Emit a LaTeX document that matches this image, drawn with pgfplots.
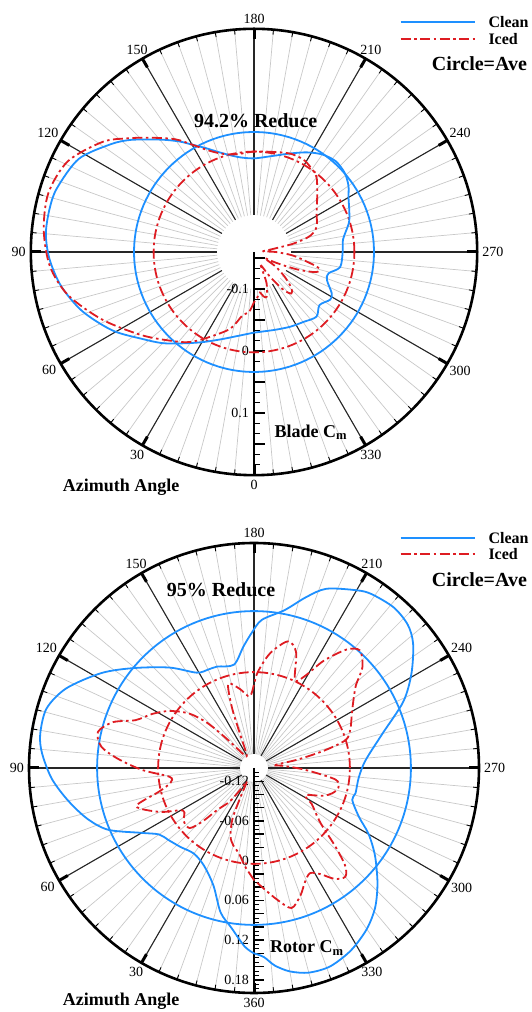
\documentclass[border=0pt]{standalone}
\usepackage{fontspec}
\setmainfont{Liberation Serif}
\usepackage{pgfplots}
\usepackage{pgfplotstable}
\pgfplotsset{compat=1.18}
\definecolor{cblue}{RGB}{30,144,255}
\definecolor{cred}{RGB}{222,28,34}
\definecolor{cgray}{RGB}{200,200,200}
\newcommand\tk{\fontsize{14}{16}\selectfont}
\tikzset{ddot/.style={dash pattern=on 10pt off 3.5pt on 2.5pt off 3.5pt}}

\pgfplotstableread{
az cm
0 -0.030
12 -0.021
21 -0.009
30 0.008
38 0.027
45 0.048
52 0.068
61 0.101
71 0.133
80 0.156
88 0.170
95 0.177
102 0.177
108 0.174
118 0.160
127 0.129
132 0.110
136 0.092
141 0.073
146 0.055
150 0.040
155 0.025
160 0.012
166 0.001
172 -0.006
180 -0.009
189 -0.004
200 0.009
208 0.022
215 0.032
222 0.037
229 0.034
235 0.026
240 0.016
247 0.007
253 0.000
262 -0.015
270 -0.017
280 -0.019
286 -0.035
291 -0.034
298 -0.018
302 -0.015
309 -0.024
316 -0.015
325 -0.022
334 -0.026
345 -0.030
360 -0.030
}\topclean

\pgfplotstableread{
az cm
0 -0.079
5 -0.062
10 -0.057
17 -0.031
27 -0.007
34 0.014
40 0.029
53 0.064
66 0.108
77 0.148
86 0.170
96 0.181
106 0.185
116 0.174
126 0.142
132 0.114
138 0.088
145 0.062
150 0.040
155 0.022
160 0.010
166 0.002
172 0.000
180 0.002
190 0.004
200 0.009
208 0.009
214 0.004
220 -0.003
229 -0.025
238 -0.041
248 -0.051
254 -0.066
258 -0.095
262 -0.135
266 -0.145
270 -0.125
275 -0.098
280 -0.075
284 -0.052
288 -0.055
292 -0.085
296 -0.120
300 -0.140
304 -0.118
309 -0.096
314 -0.076
318 -0.070
322 -0.082
327 -0.112
332 -0.135
335 -0.130
338 -0.106
344 -0.085
348 -0.087
352 -0.094
356 -0.086
360 -0.079
}\topiced

\pgfplotstableread{
az cm
0 0.140
3 0.130
8 0.104
13 0.084
19 0.048
27 0.026
35 0.018
43 0.023
50 0.029
55 0.035
60 0.056
67 0.099
73 0.123
80 0.145
87 0.166
94 0.181
99 0.187
106 0.186
113 0.168
122 0.131
130 0.095
140 0.058
149 0.028
155 0.024
160 0.023
169 0.019
175 0.044
179 0.064
183 0.084
191 0.103
197 0.130
202 0.152
210 0.170
214 0.177
221 0.1815
227 0.1775
232 0.165
239 0.1375
246 0.107
255 0.061
266 0.029
275 0.019
284 0.018
288 0.016
295 0.035
300 0.060
306 0.086
313 0.115
319 0.139
325 0.157
332 0.172
339 0.181
345 0.180
350 0.172
354 0.160
357 0.146
360 0.140
}\botclean

\pgfplotstableread{
az cm
0 0.029
5 0.010
10 -0.009
15 -0.019
19 -0.031
23 -0.057
25 -0.095
28 -0.117
32 -0.102
36 -0.077
41 -0.057
44 -0.027
47 -0.007
53 -0.007
59 -0.015
65 0.017
72 0.047
76 0.008
80 -0.012
84 -0.012
89 0.029
94 0.067
98 0.093
103 0.102
108 0.084
112 0.053
118 0.034
124 0.014
130 -0.012
134 -0.042
137 -0.080
141 -0.110
146 -0.119
151 -0.117
155 -0.107
158 -0.080
160 -0.042
163 -0.007
170 -0.019
177 -0.031
182 0.0035
188 0.035
195 0.058
200 0.046
205 0.0065
209 0.019
213 0.053
218 0.087
222 0.099
227 0.084
231 0.058
236 0.041
241 0.029
248 0.017
253 0.005
256 -0.030
259 -0.072
262 -0.107
266 -0.095
272 -0.063
278 -0.016
283 -0.009
288 -0.016
292 -0.028
298 -0.052
302 -0.037
306 -0.025
310 -0.007
314 0.031
317 0.062
320 0.0745
324 0.067
328 0.049
332 0.040
336 0.049
340 0.065
345 0.079
350 0.062
355 0.044
360 0.029
}\boticed

% cx, cy, R, hole radius, label at the bottom
\newcommand\polargrid[5]{%
\begin{scope}[shift={(#1,#2)}]
 \foreach \a in {0,5,...,355}{\draw[cgray,line width=0.7pt] ({270-\a}:#4) -- ({270-\a}:#3);}
 \foreach \a in {30,60,...,330}{\draw[black!85,line width=1.1pt] ({270-\a}:#4) -- ({270-\a}:#3);}
 \foreach \a in {0,5,...,355}{\draw[black,line width=0.9pt] ({270-\a}:{#3-5}) -- ({270-\a}:#3);}
 \foreach \a in {0,30,...,330}{\draw[black,line width=3pt] ({270-\a}:{#3-10}) -- ({270-\a}:#3);}
 \draw[black,line width=2.6pt] (0,0) circle[radius=#3pt];
 \foreach \a in {30,60,...,330}{\pgfmathtruncatemacro\anc{mod(450-\a,360)}
   \node[anchor=\anc,inner sep=0pt,font=\tk] at ({270-\a}:{#3+5}) {\a};}
 \node[anchor=north,inner sep=0pt,font=\tk] at (0,{-#3-5}) {#5};
 \draw[black,line width=2.2pt] (0,0) -- (0,-#3);
\end{scope}}

\begin{document}
\begin{tikzpicture}[x=1pt,y=1pt]
\polargrid{254}{760}{223.2}{37}{0}
\polargrid{254}{244}{225}{14}{360}
% radial axis ticks, top
\foreach \i in {0,...,21}{
  \pgfmathsetmacro\rr{(0.01+\i/60)*620}
  \pgfmathtruncatemacro\mj{mod(\i,3)==0}
  \ifnum\mj=1 \draw[line width=1.4pt] (254,760-\rr) -- ++(11,0);
  \else \draw[line width=1pt] (254,760-\rr) -- ++(6,0); \fi
}
\foreach \v/\r in {-0.1/37.2,0/99.2,0.1/161.2}{
  \node[anchor=east,inner sep=0pt,font=\tk] at (249,760-\r) {\v};}
% radial axis ticks, bottom
\foreach \i in {1,...,51}{
  \pgfmathsetmacro\rr{\i*4.41333}
  \pgfmathtruncatemacro\mj{mod(\i,3)==0}
  \ifnum\mj=1 \draw[line width=1.4pt] (254,244-\rr) -- ++(10,0);
  \else \draw[line width=0.9pt] (254,244-\rr) -- ++(5,0); \fi
}
\foreach \v/\r in {-0.12/13.24,-0.06/52.96,0/92.68,0.06/132.4,0.12/172.1,0.18/211.8}{
  \node[anchor=east,inner sep=0pt,font=\tk] at (249,244-\r) {\v};}

\begin{axis}[at={(0,0)},anchor=south west,x=1pt,y=1pt,
  xmin=0,xmax=532,ymin=0,ymax=1012,hide axis,clip=false]
% top: averages
\draw[cblue,line width=1.8pt] (axis cs:254,760) circle[radius={(0.0335+0.16)*620}];
\draw[cred,line width=1.8pt,ddot] (axis cs:254,760) circle[radius={(0.0019+0.16)*620}];
\addplot[cblue,line width=1.8pt,smooth,tension=0.5] table[
  x expr={254-(\thisrow{cm}+0.16)*620*sin(\thisrow{az})},
  y expr={760-(\thisrow{cm}+0.16)*620*cos(\thisrow{az})}]{\topclean};
\addplot[cred,line width=1.8pt,ddot,smooth,tension=0.5] table[
  x expr={254-(\thisrow{cm}+0.16)*620*sin(\thisrow{az})},
  y expr={760-(\thisrow{cm}+0.16)*620*cos(\thisrow{az})}]{\topiced};
% bottom: averages
\draw[cblue,line width=1.8pt] (axis cs:254,244) circle[radius={(0.097+0.14)*662}];
\draw[cred,line width=1.8pt,ddot] (axis cs:254,244) circle[radius={(0.00485+0.14)*662}];
\addplot[cblue,line width=1.8pt,smooth,tension=0.5] table[
  x expr={254-(\thisrow{cm}+0.14)*662*sin(\thisrow{az})},
  y expr={244-(\thisrow{cm}+0.14)*662*cos(\thisrow{az})}]{\botclean};
\addplot[cred,line width=1.8pt,ddot,smooth,tension=0.5] table[
  x expr={254-(\thisrow{cm}+0.14)*662*sin(\thisrow{az})},
  y expr={244-(\thisrow{cm}+0.14)*662*cos(\thisrow{az})}]{\boticed};
\end{axis}

% texts, top
\node[inner sep=0pt,font=\fontsize{20}{22}\selectfont\bfseries] at (255.7,891.3) {94.2\% Reduce};
\node[anchor=west,inner sep=0pt,font=\fontsize{18}{20}\selectfont\bfseries] at (274.3,579.7) {Blade C\textsubscript{m}};
\node[anchor=west,inner sep=0pt,font=\fontsize{18}{20}\selectfont\bfseries] at (62.6,524.7) {Azimuth Angle};
\draw[cblue,line width=1.8pt] (400.7,990) -- (475,990);
\draw[cred,line width=1.8pt,ddot] (400.7,973) -- (475,973);
\node[anchor=west,inner sep=0pt,font=\fontsize{16}{18}\selectfont\bfseries] at (488.3,990) {Clean};
\node[anchor=west,inner sep=0pt,font=\fontsize{16}{18}\selectfont\bfseries] at (488.3,973) {Iced};
\node[anchor=west,inner sep=0pt,font=\fontsize{20}{22}\selectfont\bfseries] at (431.7,948.7) {Circle=Ave};
% texts, bottom
\node[inner sep=0pt,font=\fontsize{20}{22}\selectfont\bfseries] at (221,422) {95\% Reduce};
\node[anchor=west,inner sep=0pt,font=\fontsize{18}{20}\selectfont\bfseries] at (270,63.7) {Rotor C\textsubscript{m}};
\node[anchor=west,inner sep=0pt,font=\fontsize{18}{20}\selectfont\bfseries] at (62.6,10.3) {Azimuth Angle};
\draw[cblue,line width=1.8pt] (400.7,473.7) -- (475,473.7);
\draw[cred,line width=1.8pt,ddot] (400.7,457.7) -- (475,457.7);
\node[anchor=west,inner sep=0pt,font=\fontsize{16}{18}\selectfont\bfseries] at (488.3,473.7) {Clean};
\node[anchor=west,inner sep=0pt,font=\fontsize{16}{18}\selectfont\bfseries] at (488.3,457.7) {Iced};
\node[anchor=west,inner sep=0pt,font=\fontsize{20}{22}\selectfont\bfseries] at (431.7,432) {Circle=Ave};
\pgfresetboundingbox
\path (0,0) rectangle (532,1012);
\end{tikzpicture}
\end{document}
